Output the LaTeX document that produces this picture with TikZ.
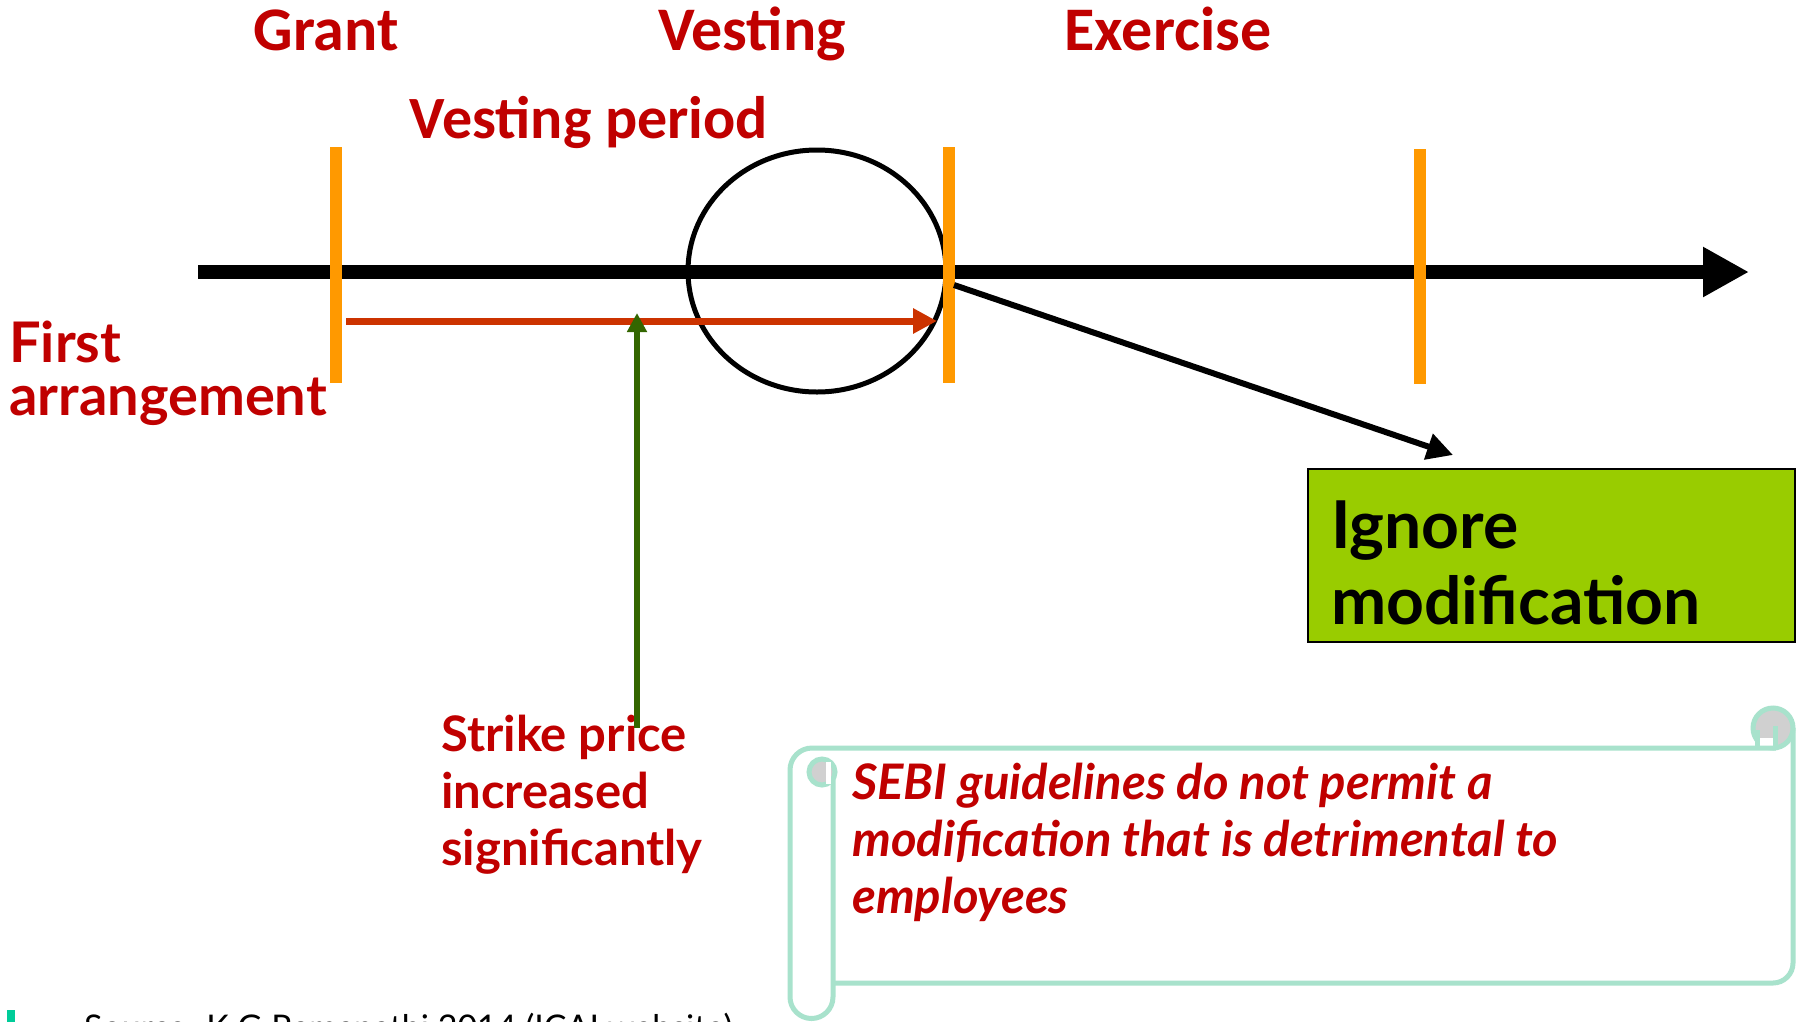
\documentclass[tikz,border=0pt]{standalone}
\usepackage{fontspec}
\setmainfont{Lato}
\newfontfamily\headfont{Carlito}
\usetikzlibrary{arrows.meta,shapes.geometric}
\definecolor{hred}{RGB}{192,0,0}
\definecolor{barcol}{RGB}{255,153,0}
\definecolor{rarr}{RGB}{204,51,0}
\definecolor{garr}{RGB}{51,102,0}
\definecolor{boxg}{RGB}{153,204,0}
\definecolor{mint}{RGB}{168,226,204}
\definecolor{bulletc}{RGB}{0,204,153}
\definecolor{curlc}{RGB}{208,208,208}
\begin{document}
\begin{tikzpicture}[x=1pt,y=-1pt,
  head/.style={text=hred, inner sep=0, font=\headfont\bfseries\fontsize{62}{72}\selectfont},
  lbl/.style={text=hred, inner sep=0, align=left, anchor=base west},
  timeline/.style={line width=14, -{Triangle[length=46pt,width=47pt]}},
  tick/.style={draw=barcol, line width=12},
  redarrow/.style={draw=rarr, line width=7, -{Triangle[length=24pt,width=24pt]}},
  greenarrow/.style={draw=garr, line width=6, -{Triangle[length=19pt,width=19pt]}},
  blackarrow/.style={line width=6, -{Triangle[length=26pt,width=26pt]}},
  gbox/.style={draw=black, line width=2, fill=boxg, minimum width=487, minimum height=173, anchor=north west, inner sep=0},
  scroll/.style={draw=mint, line width=5}
]
\useasboundingbox[fill=white] (0,0) rectangle (1802,1021);

% headings
\node[head, anchor=base] (grant) at (326,50) {Grant};
\node[head, anchor=base] (vesting) at (752,50) {Vesting};
\node[head, anchor=base] (exercise) at (1168,50) {Exercise};
\node[head, anchor=base, font=\headfont\bfseries\fontsize{60}{72}\selectfont] (vperiod) at (589,138) {Vesting period};

% timeline
\coordinate (tlS) at (198,272);
\coordinate (tlE) at (1749,272);
\draw[timeline] (tlS) -- (tlE);

% vesting circle
\node[draw, line width=5, ellipse, minimum width=258, minimum height=242, inner sep=0] (circ) at (817,271) {};

% ticks
\coordinate (t1a) at (336,147); \coordinate (t1b) at (336,383);
\coordinate (t2a) at (949,147); \coordinate (t2b) at (949,383);
\coordinate (t3a) at (1420,149); \coordinate (t3b) at (1420,384);
\draw[tick] (t1a) -- (t1b);
\draw[tick] (t2a) -- (t2b);
\draw[tick] (t3a) -- (t3b);

% vesting period arrow
\coordinate (rS) at (346,321);
\coordinate (rE) at (937,321);
\draw[redarrow] (rS) -- (rE);

% labels (base anchor = baseline of the last line)
\node[lbl, font=\bfseries\fontsize{56}{53}\selectfont] (first) at (9,415) {First\\arrangement};
\node[lbl, font=\bfseries\fontsize{49}{57}\selectfont] (strike) at (441,865) {Strike price\\increased\\significantly};

% strike price arrow
\coordinate (gS) at (637,728);
\coordinate (gE) at (637,313);
\draw[greenarrow] (gS) -- (gE);

% ignore box
\node[gbox] (box) at (1307,468) {};
\node[anchor=base west, inner sep=0, align=left, font=\bfseries\fontsize{66}{76}\selectfont] (ignore) at (1331,624) {Ignore\\modification};
\coordinate (bS) at (954,285);
\coordinate (bE) at (1453,455);
\draw[blackarrow] (bS) -- (bE);

% scroll
\coordinate (sc1) at (833,983);
\coordinate (sc2) at (1793,983);
\coordinate (sc3) at (1793,728);
\draw[scroll, rounded corners=20] (sc1) -- (sc2) -- (sc3);
\draw[scroll, fill=curlc] (1773,728) circle[radius=20];
\fill[white] (1757,738) rectangle (1773,746);
\draw[scroll] (1757,730) -- (1757,748);
\draw[scroll] (1775,726) -- (1775,748);
\draw[scroll, fill=white] (833,772) -- (833,997) arc[start angle=0, end angle=180, radius=21.5] -- (790,770) arc[start angle=180, end angle=270, radius=22] -- (1776,748);
\draw[scroll, fill=curlc] (822,772) circle[radius=13];
\fill[white] (826,762) rectangle (831,784);

\node[lbl, font=\bfseries\itshape\fontsize{49}{57}\selectfont] (sebi) at (852,913) {SEBI guidelines do not permit a\\modification that is detrimental to\\employees};

% source line (cut by the page edge)
\fill[bulletc] (7,1010) rectangle (15,1030);
\node[anchor=base west, inner sep=0, font=\fontsize{34}{40}\selectfont] (source) at (84,1039) {Source: K G Ramanathi 2014 (ICAI website)};
\end{tikzpicture}
\end{document}
